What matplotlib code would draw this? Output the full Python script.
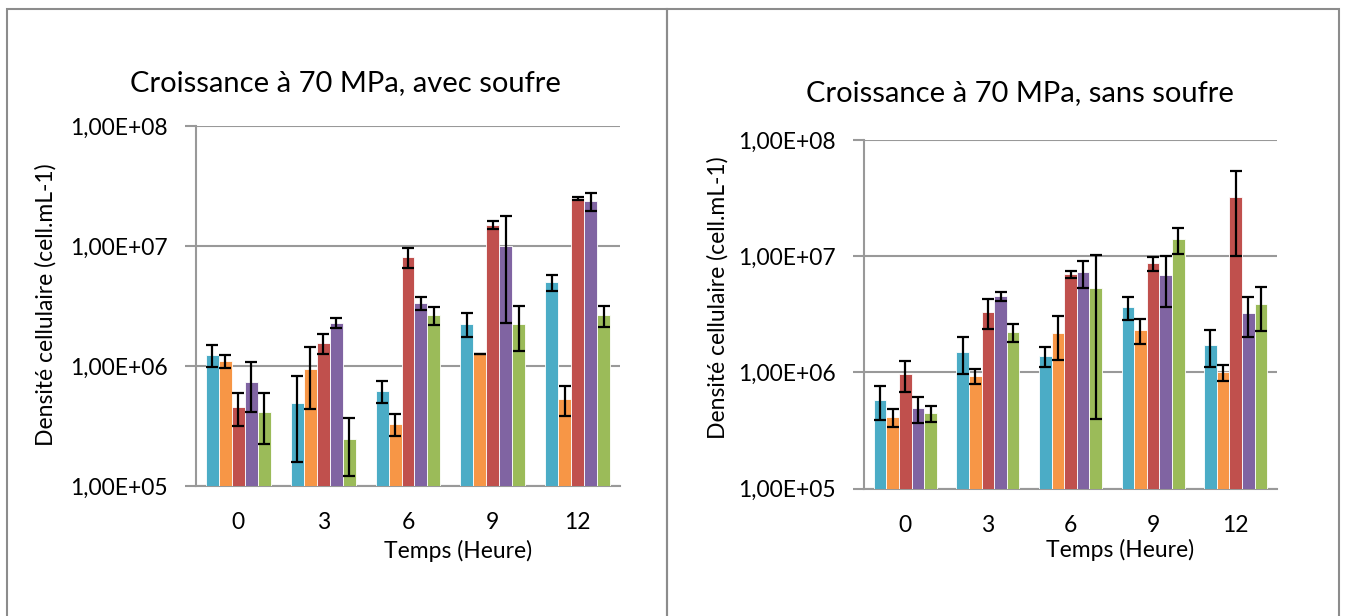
import matplotlib
matplotlib.use('Agg')
import matplotlib.pyplot as plt
from matplotlib.patches import Rectangle
from matplotlib.ticker import FixedLocator, FuncFormatter, NullLocator
import numpy as np

plt.rcParams['font.family'] = ['Lato', 'DejaVu Sans']

times = ['0', '3', '6', '9', '12']
colors = ['#4BACC6', '#F79646', '#C0504D', '#8064A2', '#9BBB59']

# left panel: 70 MPa, with sulfur (one list per series, one value per time)
avec_vals = [
  [1.24e6, 4.9e5, 6.2e5, 2.24e6, 5.0e6],
  [1.10e6, 9.4e5, 3.3e5, 1.26e6, 5.3e5],
  [4.55e5, 1.55e6, 8.1e6, 1.5e7, 2.5e7],
  [7.4e5, 2.28e6, 3.35e6, 1.0e7, 2.37e7],
  [4.1e5, 2.46e5, 2.66e6, 2.24e6, 2.66e6],
]
avec_err = [
  [2.5e5, 3.3e5, 1.3e5, 5.0e5, 7.5e5],
  [1.3e5, 5.0e5, 7.0e4, 0.0, 1.45e5],
  [1.4e5, 3.0e5, 1.6e6, 1.2e6, 8.0e5],
  [3.3e5, 2.2e5, 4.0e5, 7.7e6, 4.2e6],
  [1.85e5, 1.25e5, 4.5e5, 9.0e5, 5.3e5],
]

# right panel: 70 MPa, without sulfur
sans_vals = [
  [5.8e5, 1.49e6, 1.38e6, 3.64e6, 1.71e6],
  [4.1e5, 9.3e5, 2.17e6, 2.31e6, 1.0e6],
  [9.7e5, 3.3e6, 6.98e6, 8.7e6, 3.2e7],
  [4.9e5, 4.52e6, 7.26e6, 6.86e6, 3.23e6],
  [4.45e5, 2.22e6, 5.3e6, 1.40e7, 3.86e6],
]
sans_err = [
  [1.9e5, 5.2e5, 2.7e5, 8.0e5, 6.0e5],
  [7.2e4, 1.3e5, 9.0e5, 5.6e5, 1.6e5],
  [2.9e5, 9.5e5, 4.7e5, 1.2e6, 2.2e7],
  [1.27e5, 4.0e5, 1.9e6, 3.2e6, 1.23e6],
  [7.0e4, 3.9e5, 4.9e6, 3.5e6, 1.6e6],
]

W, H = 1351, 616
fig = plt.figure(figsize=(W / 100, H / 100), dpi=100)

def px_axes(x0, y0, x1, y1):
  return fig.add_axes([x0 / W, 1 - y1 / H, (x1 - x0) / W, (y1 - y0) / H])

def sci_fr(v, pos):
  e = int(round(np.log10(v)))
  return '1,00E+%02d' % e

def draw_chart(ax, vals, errs):
  n = len(vals)
  x = np.arange(len(times))
  bw = 0.153
  for i, (v, e) in enumerate(zip(vals, errs)):
    off = (i - (n - 1) / 2) * bw
    ax.bar(x + off, v, bw, color=colors[i], edgecolor='white', linewidth=0.6, zorder=3)
    ax.errorbar(x + off, v, yerr=e, fmt='none', ecolor='black', elinewidth=1.6,
                capsize=4.6, capthick=1.6, zorder=4)
  ax.set_yscale('log')
  ax.set_ylim(1e5, 1e8)
  ax.set_xlim(-0.5, len(times) - 0.5)
  ax.yaxis.set_major_locator(FixedLocator([1e5, 1e6, 1e7, 1e8]))
  ax.yaxis.set_minor_locator(NullLocator())
  ax.yaxis.set_major_formatter(FuncFormatter(sci_fr))
  ax.set_xticks(x)
  ax.set_xticklabels(times)
  ax.grid(axis='y', color='#999999', linewidth=1.5, zorder=0)
  for s in ['top', 'right']:
    ax.spines[s].set_visible(False)
  for s in ['left', 'bottom']:
    ax.spines[s].set_color('#999999')
    ax.spines[s].set_linewidth(1.5)
  ax.tick_params(axis='y', length=8, width=1.5, color='#999999', labelsize=16.5, pad=12)
  ax.tick_params(axis='x', length=0, labelsize=16.5, pad=19)

ax1 = px_axes(196, 126, 620, 486)
draw_chart(ax1, avec_vals, avec_err)
ax2 = px_axes(864, 140, 1277, 488.5)
draw_chart(ax2, sans_vals, sans_err)

# panel frames
for x0, x1 in [(7, 667), (667, 1339)]:
  fig.patches.append(Rectangle((x0 / W, -0.1), (x1 - x0) / W, 1 - 9 / H + 0.1,
                               transform=fig.transFigure, fill=False,
                               edgecolor='#8c8c8c', linewidth=1.5))

fig.text(345 / W, 1 - 83 / H, 'Croissance à 70 MPa, avec soufre', ha='center', va='center', fontsize=21)
fig.text(1020 / W, 1 - 93 / H, 'Croissance à 70 MPa, sans soufre', ha='center', va='center', fontsize=21)
fig.text(46 / W, 1 - 305 / H, 'Densité cellulaire (cell.mL-1)', ha='center', va='center', rotation=90, fontsize=16.5)
fig.text(718 / W, 1 - 298 / H, 'Densité cellulaire (cell.mL-1)', ha='center', va='center', rotation=90, fontsize=16.5)
fig.text(458 / W, 1 - 551 / H, 'Temps (Heure)', ha='center', va='center', fontsize=16.5)
fig.text(1120 / W, 1 - 550 / H, 'Temps (Heure)', ha='center', va='center', fontsize=16.5)

fig.savefig('out.png', dpi=100)
